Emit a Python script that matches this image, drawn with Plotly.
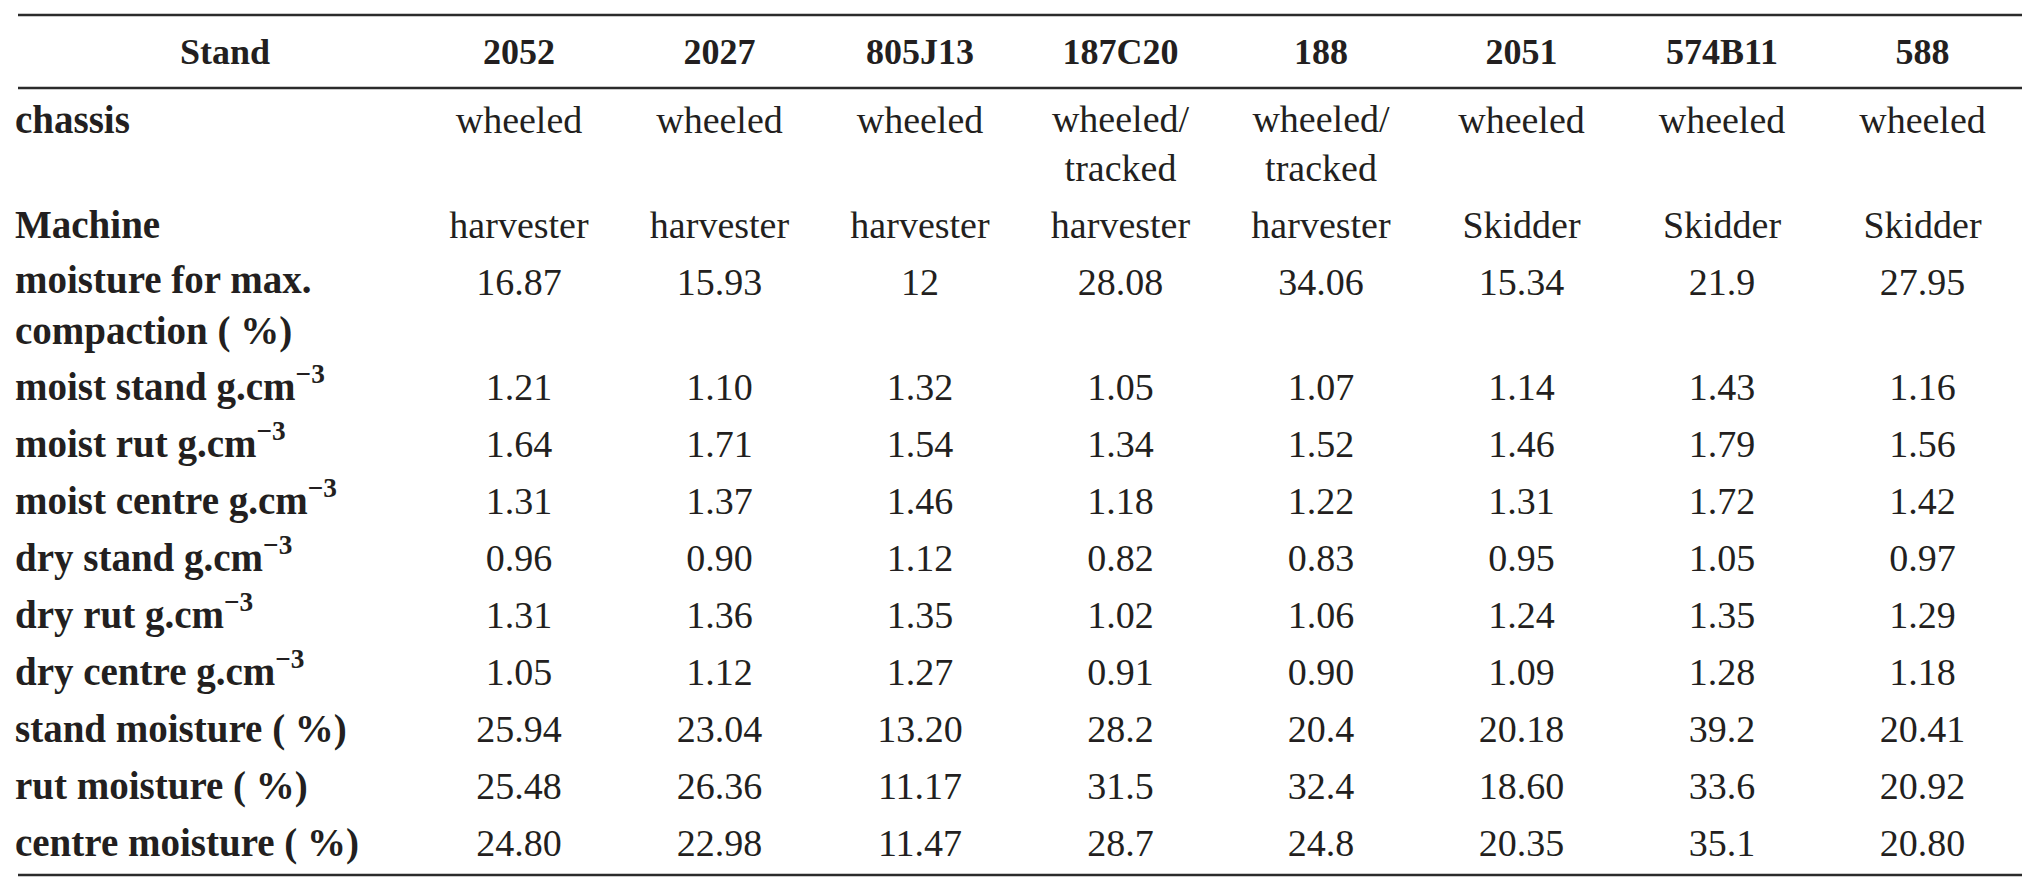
import plotly.graph_objects as go

# table content
stands = ['2052', '2027', '805J13', '187C20', '188', '2051', '574B11', '588']
row_labels = [
    'chassis',
    'Machine',
    'moisture for max.<br>compaction ( %)',
    'moist stand g.cm<sup>\u22123</sup>',
    'moist rut g.cm<sup>\u22123</sup>',
    'moist centre g.cm<sup>\u22123</sup>',
    'dry stand g.cm<sup>\u22123</sup>',
    'dry rut g.cm<sup>\u22123</sup>',
    'dry centre g.cm<sup>\u22123</sup>',
    'stand moisture ( %)',
    'rut moisture ( %)',
    'centre moisture ( %)',
]
chassis = ['wheeled', 'wheeled', 'wheeled', 'wheeled/<br>tracked', 'wheeled/<br>tracked',
           'wheeled', 'wheeled', 'wheeled']
machine = ['harvester', 'harvester', 'harvester', 'harvester', 'harvester',
           'Skidder', 'Skidder', 'Skidder']
max_compaction_moisture = ['16.87', '15.93', '12', '28.08', '34.06', '15.34', '21.9', '27.95']
moist_stand = ['1.21', '1.10', '1.32', '1.05', '1.07', '1.14', '1.43', '1.16']
moist_rut = ['1.64', '1.71', '1.54', '1.34', '1.52', '1.46', '1.79', '1.56']
moist_centre = ['1.31', '1.37', '1.46', '1.18', '1.22', '1.31', '1.72', '1.42']
dry_stand = ['0.96', '0.90', '1.12', '0.82', '0.83', '0.95', '1.05', '0.97']
dry_rut = ['1.31', '1.36', '1.35', '1.02', '1.06', '1.24', '1.35', '1.29']
dry_centre = ['1.05', '1.12', '1.27', '0.91', '0.90', '1.09', '1.28', '1.18']
stand_moisture = ['25.94', '23.04', '13.20', '28.2', '20.4', '20.18', '39.2', '20.41']
rut_moisture = ['25.48', '26.36', '11.17', '31.5', '32.4', '18.60', '33.6', '20.92']
centre_moisture = ['24.80', '22.98', '11.47', '28.7', '24.8', '20.35', '35.1', '20.80']

rows = [chassis, machine, max_compaction_moisture, moist_stand, moist_rut, moist_centre,
        dry_stand, dry_rut, dry_centre, stand_moisture, rut_moisture, centre_moisture]

# layout in page pixels (axes mapped 1:1, page body has an 8px margin)
W, H = 2039, 896
PAGE_MARGIN = 8
FONT = 'Liberation Serif'
INK = '#231f20'
FS = 38
FS_LABEL = 39
FS_HEAD = 36
LINE_H = 48
ROW_GAP = 57
TEXT_DY = 3
LEFT, RIGHT = 18, 2022
COL0, COL_STEP = 519, 200.5
HEAD_Y = 52
BODY_Y0 = 120
RULES = [15, 88, 875]

col_x = [COL0 + i * COL_STEP for i in range(len(stands))]

# first-line y of each row; multi-line cells are centred on their block
first_line = []
y = BODY_Y0 + TEXT_DY
for i, vals in enumerate(rows):
    n = max([v.count('<br>') + 1 for v in vals] + [row_labels[i].count('<br>') + 1])
    first_line.append(y)
    y += (n - 1) * LINE_H + ROW_GAP


def centre_y(text, start):
    return start + text.count('<br>') * LINE_H / 2


fig = go.Figure()

# header
fig.add_trace(go.Scatter(
    x=[225] + col_x, y=[HEAD_Y + TEXT_DY] * (len(stands) + 1),
    text=['<b>Stand</b>'] + ['<b>%s</b>' % s for s in stands],
    mode='text', textposition='middle center',
    textfont=dict(family=FONT, size=FS_HEAD, color=INK), hoverinfo='skip'))

# row labels
fig.add_trace(go.Scatter(
    x=[LEFT - 3] * len(row_labels),
    y=[centre_y(t, first_line[i]) for i, t in enumerate(row_labels)],
    text=['<b>%s</b>' % t for t in row_labels],
    mode='text', textposition='middle right',
    textfont=dict(family=FONT, size=FS_LABEL, color=INK), hoverinfo='skip'))

# body cells, one trace per stand
for j, s in enumerate(stands):
    vals = [r[j] for r in rows]
    fig.add_trace(go.Scatter(
        x=[col_x[j]] * len(vals),
        y=[centre_y(v, first_line[i]) for i, v in enumerate(vals)],
        text=vals, name=s,
        mode='text', textposition='middle center',
        textfont=dict(family=FONT, size=FS, color=INK), hoverinfo='skip'))

for ry in RULES:
    fig.add_shape(type='line', xref='x', yref='y', x0=LEFT, x1=RIGHT, y0=ry, y1=ry,
                  line=dict(color='#2b2b2b', width=2.5))

fig.update_xaxes(range=[PAGE_MARGIN, W + PAGE_MARGIN], visible=False, fixedrange=True)
fig.update_yaxes(range=[H + PAGE_MARGIN, PAGE_MARGIN], visible=False, fixedrange=True)
fig.update_layout(width=W, height=H, margin=dict(l=0, r=0, t=0, b=0),
                  plot_bgcolor='white', paper_bgcolor='white', showlegend=False)
fig.write_html('out.html')
